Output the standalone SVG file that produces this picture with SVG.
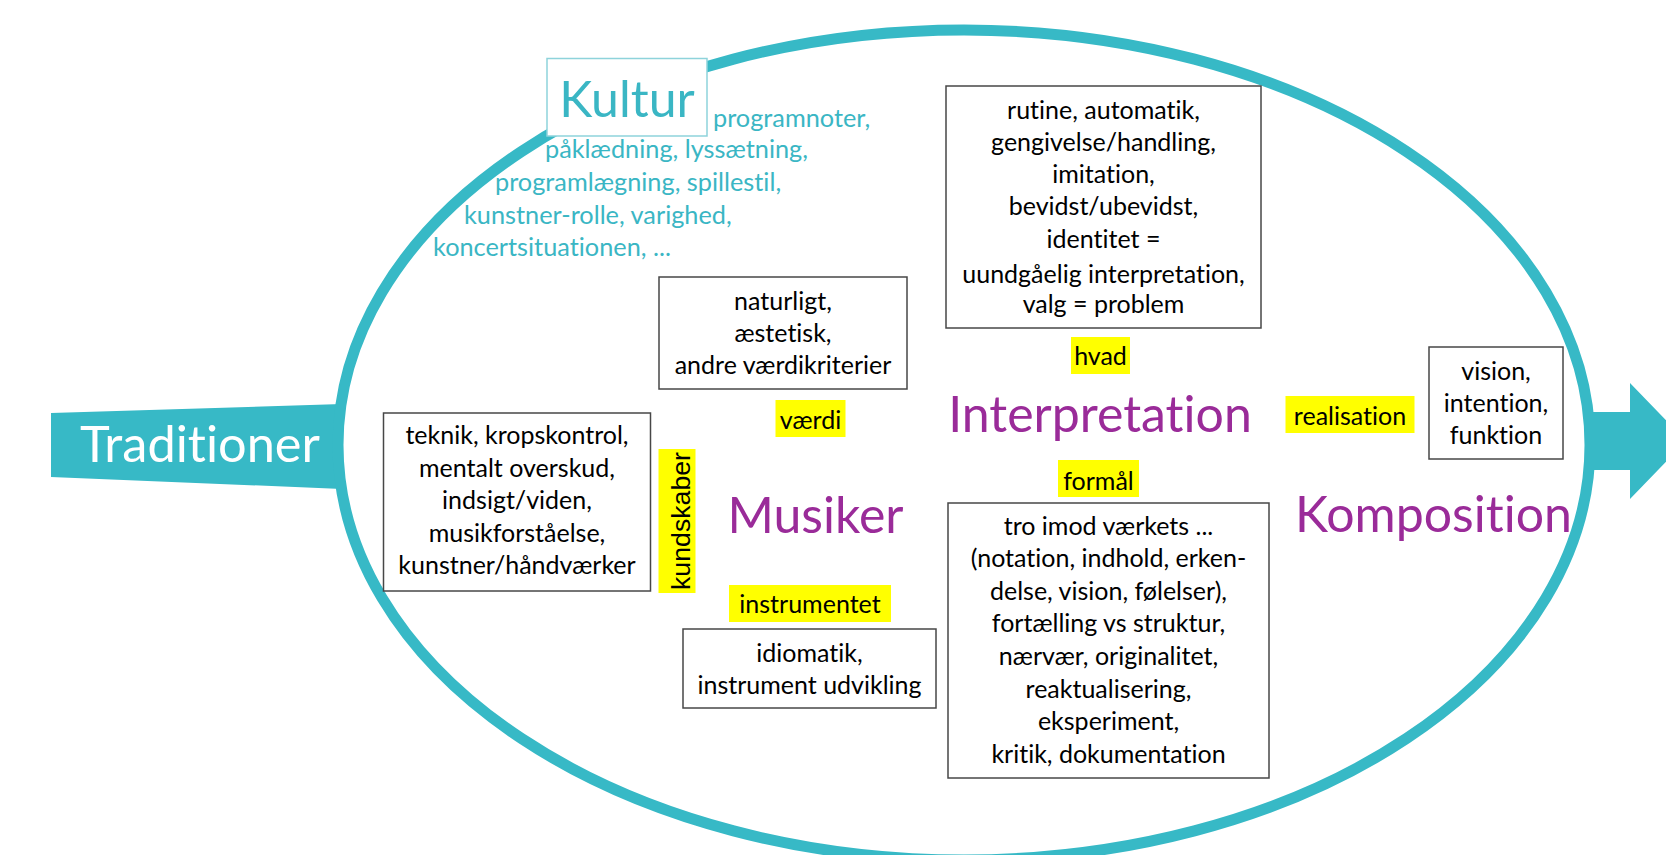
<svg xmlns="http://www.w3.org/2000/svg" width="1666" height="855" viewBox="0 0 1666 855">
<style>
text{font-variant-ligatures:none;font-feature-settings:"liga" 0,"clig" 0}
.box{fill:#fff;stroke:#474747;stroke-width:1.5}
.hl{fill:#ffff00}
.t{font-family:Lato,"Liberation Sans",sans-serif;font-size:25px;fill:#000;text-anchor:middle}
.big{font-family:Lato,"Liberation Sans",sans-serif;font-size:50px;fill:#9a2b99;text-anchor:middle}
.tl{font-family:Lato,"Liberation Sans",sans-serif;font-size:25.3px;fill:#3ab6c4}
.teal{fill:#37b9c6}
</style>
<rect width="1666" height="855" fill="#fff"/>
<g id="connectors">
  <polygon class="teal" points="51,413 342,404 342,489 51,477"/>
  <ellipse cx="964" cy="445" rx="626" ry="415" fill="none" stroke="#37b9c6" stroke-width="11"/>
  <polygon class="teal" points="1586,412 1630,412 1630,383 1686,441 1630,499 1630,470 1586,470"/>
</g>
<g id="traditioner">
  <text x="200" y="462" font-family="Lato,'Liberation Sans',sans-serif" font-size="50.5" fill="#fff" text-anchor="middle">Traditioner</text>
</g>
<g id="kultur">
  <rect x="547" y="58.5" width="160" height="77.5" fill="#fff" stroke="#8ed3db" stroke-width="1.5"/>
  <text x="627" y="117" font-family="Lato,'Liberation Sans',sans-serif" font-size="50" fill="#3ab6c4" text-anchor="middle">Kultur</text>
  <text class="tl" x="713" y="127">programnoter,</text>
  <text class="tl" x="545" y="158">påklædning, lyssætning,</text>
  <text class="tl" x="495" y="190.5">programlægning, spillestil,</text>
  <text class="tl" x="464" y="223.5">kunstner-rolle, varighed,</text>
  <text class="tl" x="433" y="255.5">koncertsituationen, ...</text>
</g>
<g id="box-hvad">
  <rect class="box" x="946" y="86" width="315" height="242"/>
  <text class="t" x="1103.5" y="119">rutine, automatik,</text>
  <text class="t" x="1103.5" y="150.5">gengivelse/handling,</text>
  <text class="t" x="1103.5" y="183">imitation,</text>
  <text class="t" x="1103.5" y="214.5">bevidst/ubevidst,</text>
  <text class="t" x="1103.5" y="248">identitet =</text>
  <text class="t" x="1103.5" y="282.5">uundgåelig interpretation,</text>
  <text class="t" x="1103.5" y="313">valg = problem</text>
</g>
<g id="box-vaerdi">
  <rect class="box" x="659" y="277" width="248" height="112"/>
  <text class="t" x="783" y="310">naturligt,</text>
  <text class="t" x="783" y="342">æstetisk,</text>
  <text class="t" x="783" y="374">andre værdikriterier</text>
</g>
<g id="box-kundskaber">
  <rect class="box" x="383.5" y="413" width="267" height="178"/>
  <text class="t" x="517" y="444">teknik, kropskontrol,</text>
  <text class="t" x="517" y="476.5">mentalt overskud,</text>
  <text class="t" x="517" y="509">indsigt/viden,</text>
  <text class="t" x="517" y="541.5">musikforståelse,</text>
  <text class="t" x="517" y="574">kunstner/håndværker</text>
</g>
<g id="box-instrument">
  <rect class="box" x="683" y="629" width="253" height="79"/>
  <text class="t" x="809.5" y="662">idiomatik,</text>
  <text class="t" x="809.5" y="694">instrument udvikling</text>
</g>
<g id="box-realisation">
  <rect class="box" x="1429" y="347" width="134" height="112"/>
  <text class="t" x="1496" y="380">vision,</text>
  <text class="t" x="1496" y="412">intention,</text>
  <text class="t" x="1496" y="444">funktion</text>
</g>
<g id="box-formaal">
  <rect class="box" x="948" y="503" width="321" height="275"/>
  <text class="t" x="1108.5" y="535">tro imod værkets ...</text>
  <text class="t" x="1108.5" y="567">(notation, indhold, erken-</text>
  <text class="t" x="1108.5" y="600">delse, vision, følelser),</text>
  <text class="t" x="1108.5" y="632">fortælling vs struktur,</text>
  <text class="t" x="1108.5" y="665">nærvær, originalitet,</text>
  <text class="t" x="1108.5" y="698">reaktualisering,</text>
  <text class="t" x="1108.5" y="730">eksperiment,</text>
  <text class="t" x="1108.5" y="763">kritik, dokumentation</text>
</g>
<g id="label-vaerdi">
  <rect class="hl" x="775.5" y="400" width="70" height="37"/>
  <text class="t" x="810.5" y="429">værdi</text>
</g>
<g id="label-instrumentet">
  <rect class="hl" x="729" y="585" width="162" height="37"/>
  <text class="t" x="810" y="613">instrumentet</text>
</g>
<g id="label-hvad">
  <rect class="hl" x="1071" y="337" width="59" height="37"/>
  <text class="t" x="1100.5" y="365">hvad</text>
</g>
<g id="label-realisation">
  <rect class="hl" x="1285.5" y="396" width="129" height="37"/>
  <text class="t" x="1350" y="425">realisation</text>
</g>
<g id="label-formaal">
  <rect class="hl" x="1058" y="460" width="81" height="37"/>
  <text class="t" x="1098.5" y="490">formål</text>
</g>
<g id="label-kundskaber">
  <rect class="hl" x="658.5" y="449" width="37" height="144"/>
  <text transform="translate(690,521) rotate(-90)" x="0" y="0" font-family="'Liberation Sans',sans-serif" font-size="26" fill="#000" text-anchor="middle" textLength="138" lengthAdjust="spacingAndGlyphs">kundskaber</text>
</g>
<g id="musiker">
  <text class="big" x="815.5" y="533">Musiker</text>
</g>
<g id="interpretation">
  <text class="big" x="1100" y="432">Interpretation</text>
</g>
<g id="komposition">
  <text class="big" x="1433.5" y="532">Komposition</text>
</g>
</svg>
